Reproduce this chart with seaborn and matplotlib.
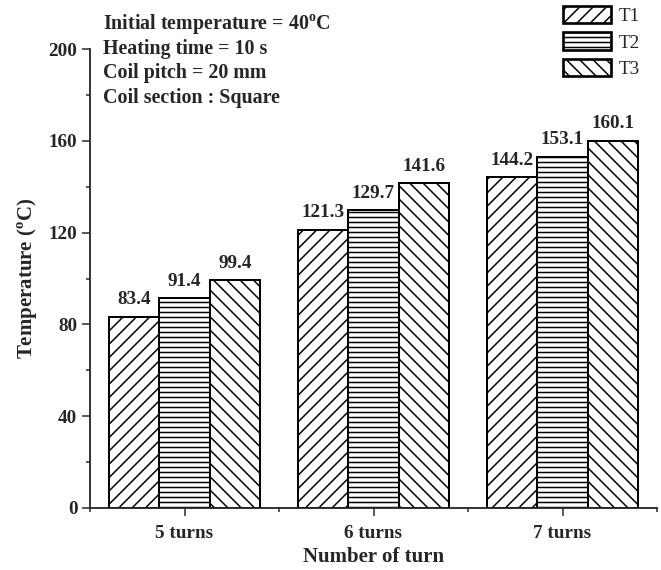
import pandas as pd
import matplotlib
matplotlib.use("Agg")
import matplotlib.pyplot as plt
import seaborn as sns
from matplotlib.ticker import MultipleLocator, FixedLocator

# Data
turns = ["5 turns", "6 turns", "7 turns"]
t1 = [83.4, 121.3, 144.2]
t2 = [91.4, 129.7, 153.1]
t3 = [99.4, 141.6, 160.1]
series = ["T1", "T2", "T3"]
hatches = ["///", "----", "\\\\\\"]

df = pd.DataFrame({
    "turn": turns * 3,
    "temp": t1 + t2 + t3,
    "series": [s for s in series for _ in turns],
})

sns.set_style("ticks")
plt.rcParams["font.family"] = ["Liberation Serif", "DejaVu Serif"]
plt.rcParams["font.weight"] = "bold"
plt.rcParams["mathtext.fontset"] = "custom"
plt.rcParams["mathtext.rm"] = "Liberation Serif:bold"
plt.rcParams["mathtext.bf"] = "Liberation Serif:bold"
plt.rcParams["hatch.linewidth"] = 0.9
plt.rcParams["hatch.color"] = "black"

DPI = 120
fig = plt.figure(figsize=(661 / DPI, 570 / DPI), dpi=DPI)
ax = fig.add_axes([90 / 661, 62 / 570, 567 / 661, 459 / 570])

sns.barplot(data=df, x="turn", y="temp", hue="series", order=turns,
            hue_order=series, color="white", saturation=1, width=0.8,
            edgecolor="black", linewidth=1.2, legend=False, ax=ax, errorbar=None)

for cont, h in zip(ax.containers, hatches):
    for p in cont.patches:
        p.set_facecolor("white")
        p.set_hatch(h)
    ax.bar_label(cont, fmt="%.1f", padding=5, fontsize=11.5, fontweight="bold")

ax.set_xlim(-0.5, 2.5)
ax.set_ylim(0, 200)
ax.yaxis.set_major_locator(MultipleLocator(40))
ax.yaxis.set_minor_locator(MultipleLocator(20))
ax.xaxis.set_minor_locator(FixedLocator([-0.5, 0.5, 1.5, 2.5]))
ax.tick_params(axis="both", which="major", length=5, width=0.9, labelsize=11.5)
ax.tick_params(axis="both", which="minor", length=2.5, width=0.9)
ax.tick_params(axis="x", which="major", pad=5)
ax.tick_params(axis="y", which="major", pad=2.5)
for lab in ax.get_xticklabels() + ax.get_yticklabels():
    lab.set_fontweight("bold")

for s in ["top", "right"]:
    ax.spines[s].set_visible(False)
for s in ["left", "bottom"]:
    ax.spines[s].set_linewidth(1.1)

ax.set_xlabel("Number of turn", fontsize=12.5, fontweight="bold", labelpad=3)
ax.set_ylabel(r"Temperature ($^{\rm o}$C)", fontsize=12.5, fontweight="bold", labelpad=5)

# Notes
notes = [r"Initial temperature = 40$^{\rm o}$C", "Heating time = 10 s",
         "Coil pitch = 20 mm", "Coil section : Square"]
for i, t in enumerate(notes):
    fig.text(103 / 661, 1 - (29 + 24.6 * i) / 570, t, fontsize=12,
             fontweight="bold", va="baseline", ha="left")

leg = fig.legend(ax.containers, series, loc="upper left",
                 bbox_to_anchor=(563 / 661, 1 - 6 / 570), frameon=False,
                 prop={"family": "Liberation Serif", "weight": "normal", "size": 11.5},
                 handlelength=2.5, handleheight=1.0, labelspacing=0.38,
                 handletextpad=0.4, borderaxespad=0, borderpad=0)
for hnd in leg.legend_handles:
    hnd.set_linewidth(1.6)

fig.savefig("out.png", dpi=DPI)
